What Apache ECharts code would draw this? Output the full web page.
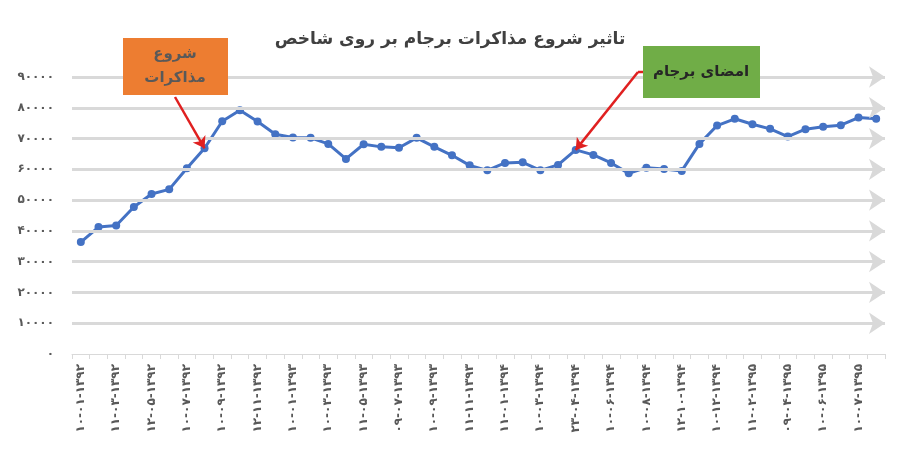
<!DOCTYPE html>
<html>
<head>
<meta charset="utf-8">
<script src="https://cdn.jsdelivr.net/npm/echarts@6/dist/echarts.min.js"></script>
<style>html,body{margin:0;padding:0;background:#fff}#container{width:900px;height:464px}</style>
</head>
<body>
<div id="container"></div>
<script>
// برچسب‌های محور افقی (هر دو نقطه یک برچسب)
var dateLabels = ['۱۰-۰۱-۱۳۹۲','۱۱-۰۳-۱۳۹۲','۱۲-۰۵-۱۳۹۲','۱۰-۰۷-۱۳۹۲','۱۰-۰۹-۱۳۹۲','۱۲-۱۱-۱۳۹۲',
    '۱۰-۰۱-۱۳۹۳','۱۰-۰۳-۱۳۹۳','۱۱-۰۵-۱۳۹۳','۰۹-۰۷-۱۳۹۳','۱۰-۰۹-۱۳۹۳','۱۱-۱۱-۱۳۹۳',
    '۱۱-۰۱-۱۳۹۴','۱۰-۰۳-۱۳۹۴','۲۳-۰۴-۱۳۹۴','۱۰-۰۶-۱۳۹۴','۱۰-۰۸-۱۳۹۴','۱۲-۱۰-۱۳۹۴',
    '۱۰-۱۲-۱۳۹۴','۱۱-۰۲-۱۳۹۵','۰۹-۰۴-۱۳۹۵','۱۰-۰۶-۱۳۹۵','۱۰-۰۷-۱۳۹۵'];
var values = [36350,41240,41760,47750,51990,53490,60330,66840,75640,79220,75540,71400,70330,70230,
    68270,63390,68140,67300,67000,70230,67300,64560,61300,59670,62080,62280,59670,61430,66320,
    64690,62080,58700,60550,60130,59480,68270,74230,76420,74660,73160,70650,73030,73810,74330,
    76840,76420];
var gridValues = [10000,20000,30000,40000,50000,60000,70000,80000,90000];
var talksIndex = 7, signIndex = 28;

var categories = [];
for (var i = 0; i < values.length; i++) {
    categories.push(i % 2 === 0 ? dateLabels[i / 2] : ' ' + i);
}
function fa(n) {
    return String(n).replace(/[0-9]/g, function (d) { return '۰۱۲۳۴۵۶۷۸۹'[d]; });
}

var myChart = echarts.init(document.getElementById('container'));
var font = 'DejaVu Sans';

var gridLines = [];
for (var g = 0; g < gridValues.length; g++) {
    gridLines.push({ yAxis: gridValues[g] });
}

var option = {
    animation: false,
    title: {
        text: 'تاثیر شروع مذاکرات برجام بر روی شاخص',
        left: 'center', top: 26,
        textStyle: { fontFamily: font, fontSize: 17, fontWeight: 'bold', color: '#404040' }
    },
    grid: { left: 72, right: 15, top: 77, bottom: 110 },
    xAxis: {
        type: 'category',
        data: categories,
        axisLine: { lineStyle: { color: '#d9d9d9' } },
        axisTick: { show: true, interval: 0, lineStyle: { color: '#d9d9d9' } },
        axisLabel: {
            rotate: 90, interval: 1, color: '#595959', fontFamily: font,
            fontSize: 12, fontWeight: 'bold', margin: 10
        }
    },
    yAxis: {
        type: 'value', min: 0, max: 90000, interval: 10000,
        splitLine: { show: false },
        axisLabel: {
            color: '#595959', fontFamily: font, fontSize: 12, fontWeight: 'bold',
            margin: 18, formatter: function (v) { return fa(v); }
        }
    },
    series: [{
        type: 'line', data: [], z: 1,
        markLine: {
            silent: true, symbol: ['none', 'arrow'], symbolSize: [16, 16],
            label: { show: false },
            lineStyle: { color: '#d9d9d9', width: 3, type: 'solid' },
            data: gridLines
        }
    }, {
        type: 'line',
        data: values,
        z: 3,
        symbol: 'circle', symbolSize: 8,
        lineStyle: { color: '#4472C4', width: 3 },
        itemStyle: { color: '#4472C4' }
    }, {
        type: 'line', data: [], z: 5,
        markLine: {
            silent: true, symbol: ['none', 'arrow'], symbolSize: 11,
            label: { show: false },
            lineStyle: { color: '#e02020', width: 2.5, type: 'solid' },
            data: [
                [{ x: 175, y: 97 }, { coord: [talksIndex, values[talksIndex]] }],
                [{ x: 638, y: 72 }, { coord: [signIndex, values[signIndex]] }]
            ]
        }
    }],
    graphic: [
        { type: 'rect', shape: { x: 123, y: 38, width: 105, height: 57 }, style: { fill: '#ED7D31' }, z: 10 },
        { type: 'text', x: 175, y: 66, z: 11, style: {
            text: 'شروع\nمذاکرات', fontFamily: font, fontSize: 15, fontWeight: 'bold', fill: '#595959',
            align: 'center', verticalAlign: 'middle', lineHeight: 24 } },
        { type: 'line', shape: { x1: 638, y1: 72, x2: 643, y2: 72 }, style: { stroke: '#e02020', lineWidth: 2.5 }, z: 10 },
        { type: 'rect', shape: { x: 643, y: 46, width: 117, height: 52 }, style: { fill: '#70AD47' }, z: 10 },
        { type: 'text', x: 701, y: 72, z: 11, style: {
            text: 'امضای برجام', fontFamily: font, fontSize: 15, fontWeight: 'bold', fill: '#262626',
            align: 'center', verticalAlign: 'middle' } }
    ]
};
myChart.setOption(option);
</script>
</body>
</html>
